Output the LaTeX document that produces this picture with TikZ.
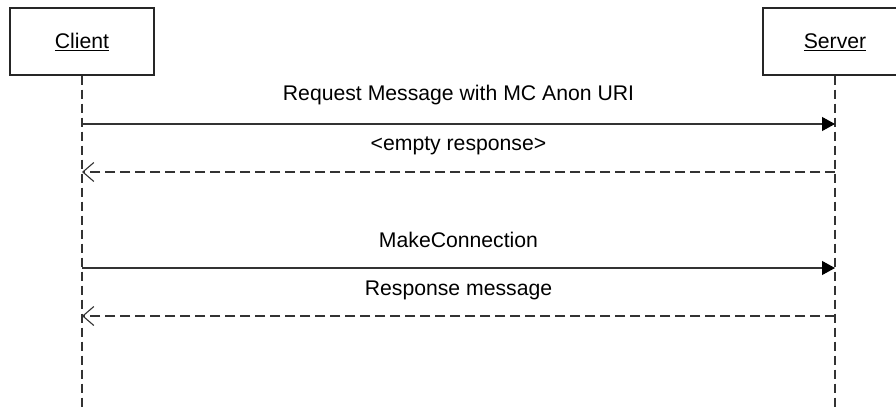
\documentclass[tikz,border=0pt]{standalone}
\usepackage{fontspec}
\setmainfont{Liberation Sans}
\usetikzlibrary{arrows.meta}
\begin{document}
\begin{tikzpicture}[x=1pt,y=-1pt,
  every node/.style={font=\fontsize{21.2}{25}\selectfont, inner sep=0pt},
  actor/.style={draw=black!85, line width=1.1pt, fill=white, minimum width=144pt, minimum height=67pt},
  lifeline/.style={draw=black!80, line width=1.1pt, dash pattern=on 9pt off 5pt},
  callmsg/.style={draw=black!80, line width=1.1pt, -{Triangle[length=13pt,width=14pt,fill=black,color=black]}},
  replymsg/.style={draw=black!80, line width=1.1pt, dash pattern=on 10pt off 5pt,
    -{Straight Barb[length=11pt,width=19pt,line width=1.1pt]}},
  msglabel/.style={anchor=base}]
  \clip (0,0) rectangle (896,409);
  \fill[white] (0,0) rectangle (896,409);

  % participants
  \node[actor] (client) at (82,41.5) {};
  \node[actor] (server) at (835,41.5) {};
  \node[anchor=base] (clientlbl) at (82,49) {\underline{Client}};
  \node[anchor=base] (serverlbl) at (835,49) {\underline{Server}};

  % lifeline ends
  \coordinate (clientend) at (82,412);
  \coordinate (serverend) at (835,412);
  \draw[lifeline] (client.south) -- (clientend);
  \draw[lifeline] (server.south) -- (serverend);

  % message anchor points on the lifelines
  \coordinate (c1) at (82,124);  \coordinate (s1) at (835,124);
  \coordinate (c2) at (82,172);  \coordinate (s2) at (835,172);
  \coordinate (c3) at (82,268);  \coordinate (s3) at (835,268);
  \coordinate (c4) at (82,316);  \coordinate (s4) at (835,316);

  % messages
  \draw[callmsg] (c1) -- (s1);
  \node[msglabel] (m1) at (458.5,101) {Request Message with MC Anon URI};
  \draw[replymsg] (s2) -- (c2);
  \node[msglabel] (m2) at (458.5,150) {<empty response>};
  \draw[callmsg] (c3) -- (s3);
  \node[msglabel] (m3) at (458.5,247) {MakeConnection};
  \draw[replymsg] (s4) -- (c4);
  \node[msglabel] (m4) at (458.5,295) {Response message};
\end{tikzpicture}
\end{document}
